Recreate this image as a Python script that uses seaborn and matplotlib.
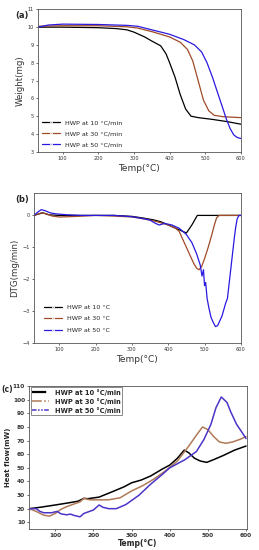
import numpy as np
import pandas as pd
import seaborn as sns
import matplotlib
matplotlib.use("Agg")
import matplotlib.pyplot as plt

# ---- data ----
series_labels_ab = ["HWP at 10 °C/min", "HWP at 30 °C/min", "HWP at 50 °C/min"]
series_labels_b = ["HWP at 10 °C", "HWP at 30 °C", "HWP at 50 °C"]

# (a) TGA
tga_t10 = [30, 100, 200, 250, 280, 300, 330, 350, 375, 390, 400, 415, 430, 445, 460, 480, 520, 560, 600]
tga_w10 = [10.0, 10.0, 9.97, 9.92, 9.85, 9.72, 9.45, 9.22, 8.95, 8.5, 8.0, 7.2, 6.2, 5.4, 5.0, 4.92, 4.82, 4.7, 4.55]
tga_t30 = [30, 100, 200, 280, 310, 350, 400, 430, 450, 465, 480, 495, 510, 525, 550, 600]
tga_w30 = [10.05, 10.08, 10.08, 10.02, 9.95, 9.75, 9.45, 9.15, 8.75, 8.1, 7.0, 5.9, 5.3, 5.05, 4.97, 4.92]
tga_t50 = [30, 60, 100, 200, 280, 310, 350, 400, 440, 470, 490, 505, 520, 535, 550, 560, 570, 580, 590, 600]
tga_w50 = [10.0, 10.12, 10.17, 10.15, 10.1, 10.05, 9.85, 9.6, 9.3, 9.0, 8.6, 8.0, 7.2, 6.3, 5.4, 4.8, 4.3, 3.95, 3.8, 3.75]

# (b) DTG
dtg_t10 = [30, 45, 55, 70, 100, 150, 200, 250, 300, 330, 360, 380, 410, 430, 450, 465, 480, 500, 600]
dtg_v10 = [0, 0.05, 0.08, 0.02, 0, 0, 0, 0, -0.03, -0.08, -0.14, -0.2, -0.35, -0.45, -0.55, -0.3, 0, 0, 0]
dtg_t30 = [30, 50, 65, 80, 100, 150, 200, 250, 300, 340, 370, 400, 420, 430, 440, 450, 460, 470, 478, 485,
           492, 500, 510, 520, 527, 533, 540, 600]
dtg_v30 = [0, 0.08, 0.05, -0.02, -0.05, -0.03, 0, -0.02, -0.05, -0.12, -0.2, -0.3, -0.4, -0.5, -0.75, -1.0,
           -1.25, -1.5, -1.65, -1.7, -1.6, -1.35, -1.0, -0.6, -0.3, -0.08, 0, 0]
dtg_t50 = [30, 40, 50, 60, 75, 90, 120, 160, 200, 250, 300, 330, 350, 365, 375, 390, 410, 430, 450, 465,
           478, 488, 493, 497, 500, 503, 507, 512, 518, 524, 530, 536, 542, 548, 553, 558, 563, 567, 572,
           577, 582, 586, 590, 595, 600]
dtg_v50 = [0, 0.1, 0.18, 0.15, 0.08, 0.05, 0.02, 0, 0, 0, -0.04, -0.1, -0.15, -0.25, -0.3, -0.25, -0.3,
           -0.4, -0.6, -0.85, -1.2, -1.55, -1.9, -1.7, -2.2, -2.1, -2.6, -2.9, -3.2, -3.35, -3.48, -3.45,
           -3.3, -3.15, -2.95, -2.75, -2.6, -2.2, -1.7, -1.2, -0.7, -0.35, -0.1, 0, 0]

# (c) heat flow
hf_t10 = [32, 60, 100, 140, 160, 175, 185, 215, 250, 280, 300, 325, 350, 380, 400, 420, 438, 450, 465,
          480, 497, 515, 540, 570, 600]
hf_v10 = [20, 21, 22.7, 24.5, 25.5, 27.6, 27.3, 28.5, 32.5, 36, 39, 41, 44, 49, 52, 57, 63, 61, 57,
          55, 54, 56, 59, 63, 66]
hf_t30 = [32, 50, 70, 85, 100, 115, 130, 150, 165, 175, 190, 210, 240, 270, 300, 330, 360, 390, 420,
          450, 470, 486, 500, 515, 530, 547, 565, 585, 600]
hf_v30 = [20, 18, 15.2, 14.5, 16.5, 19.5, 21.5, 23.5, 25, 27.6, 26.5, 26.5, 26.5, 28, 33, 37, 42, 48,
          55, 66, 74, 80, 78, 73, 69, 68, 69, 71, 73]
hf_t50 = [32, 50, 60, 70, 90, 105, 115, 130, 140, 150, 165, 175, 185, 200, 215, 225, 240, 260, 285, 320,
          350, 380, 400, 440, 470, 490, 508, 521, 535, 550, 560, 575, 587, 600]
hf_v50 = [20, 20, 18, 17, 17, 18, 16.2, 15.5, 16, 15, 14, 16.5, 17.5, 19, 22.7, 21, 20, 20, 23, 30,
          38, 45, 50, 56, 62, 71, 82, 94, 102, 98, 91, 82, 77, 71.5]

colors_ab = ["#000000", "#a04a28", "#2a1adf"]
colors_c = ["#000000", "#b07a58", "#4a35c8"]


def long_frame(xs, ys, labels):
    parts = [pd.DataFrame({"x": x, "y": y, "series": lab}) for x, y, lab in zip(xs, ys, labels)]
    return pd.concat(parts, ignore_index=True)


sns.set_style("ticks")
plt.rcParams["font.family"] = ["DejaVu Sans"]

fig = plt.figure(figsize=(2.59, 5.5), dpi=100)


def style_axes(ax, size=3.6):
    for sp in ax.spines.values():
        sp.set_linewidth(0.6)
        sp.set_color("#555555")
    ax.tick_params(labelsize=size, length=1.5, width=0.5, pad=1.5, colors="#333333")


# ---- (a) ----
ax = fig.add_axes([0.146, 0.724, 0.784, 0.259])
df = long_frame([tga_t10, tga_t30, tga_t50], [tga_w10, tga_w30, tga_w50], series_labels_ab)
sns.lineplot(data=df, x="x", y="y", hue="series", palette=colors_ab, linewidth=0.9,
             sort=False, ax=ax)
ax.set_xlim(30, 600)
ax.set_ylim(3, 11)
ax.set_xticks([100, 200, 300, 400, 500, 600])
ax.set_yticks(range(3, 12))
style_axes(ax)
ax.set_xlabel("Temp(°C)", fontsize=6.5, labelpad=2, color="#333333")
ax.set_ylabel("Weight(mg)", fontsize=6.2, labelpad=2, color="#333333")
leg = ax.legend(loc="lower left", frameon=False, fontsize=4.6, handlelength=2.8,
                labelspacing=0.85, borderaxespad=0.3)
for line in leg.get_lines():
    line.set_marker("s")
    line.set_markersize(1.2)
fig.text(0.058, 0.972, "(a)", fontsize=6, fontweight="bold", va="center")

# ---- (b) ----
ax = fig.add_axes([0.131, 0.376, 0.799, 0.273])
df = long_frame([dtg_t10, dtg_t30, dtg_t50], [dtg_v10, dtg_v30, dtg_v50], series_labels_b)
sns.lineplot(data=df, x="x", y="y", hue="series", palette=colors_ab, linewidth=0.9,
             sort=False, ax=ax)
ax.set_xlim(30, 600)
ax.set_ylim(-4, 0.7)
ax.set_xticks([100, 200, 300, 400, 500, 600])
ax.set_yticks([-4, -3, -2, -1, 0])
style_axes(ax)
ax.set_xlabel("Temp(°C)", fontsize=6.5, labelpad=2, color="#333333")
ax.set_ylabel("DTG(mg/min)", fontsize=6.2, labelpad=2, color="#333333")
leg = ax.legend(loc="lower left", frameon=False, fontsize=4.6, handlelength=2.8,
                labelspacing=0.95, borderaxespad=1.2)
for line in leg.get_lines():
    line.set_marker("s")
    line.set_markersize(1.2)
fig.text(0.058, 0.637, "(b)", fontsize=6, fontweight="bold", va="center")

# ---- (c) ----
ax = fig.add_axes([0.113, 0.038, 0.840, 0.260])
df = long_frame([hf_t10, hf_t30, hf_t50], [hf_v10, hf_v30, hf_v50], series_labels_ab)
sns.lineplot(data=df, x="x", y="y", hue="series", palette=colors_c, linewidth=1.1,
             sort=False, ax=ax)
ax.set_xlim(32, 602)
ax.set_ylim(5, 110)
ax.set_xticks([100, 200, 300, 400, 500, 600])
ax.set_yticks(range(10, 111, 10))
style_axes(ax, size=4.2)
for lab in ax.get_xticklabels() + ax.get_yticklabels():
    lab.set_fontweight("bold")
ax.set_xlabel("Temp(°C)", fontsize=5.5, fontweight="bold", labelpad=0.5)
ax.set_ylabel("Heat flow(mW)", fontsize=5, fontweight="bold", labelpad=1.5)
leg = ax.legend(loc="upper left", frameon=True, handlelength=2.6,
                labelspacing=0.3, borderaxespad=0.2, borderpad=0.2, fancybox=False,
                prop={"weight": "bold", "size": 4.8})
leg.get_frame().set_edgecolor("#333333")
leg.get_frame().set_linewidth(0.5)
for line, ls in zip(leg.get_lines(), ["-.", "-.", (0, (3, 1, 1, 1, 1, 1))]):
    line.set_linestyle(ls)
leg.get_lines()[0].set_linewidth(1.6)
fig.text(0.006, 0.291, "(c)", fontsize=5.5, fontweight="bold", va="center")

fig.savefig("out.png", dpi=100)
